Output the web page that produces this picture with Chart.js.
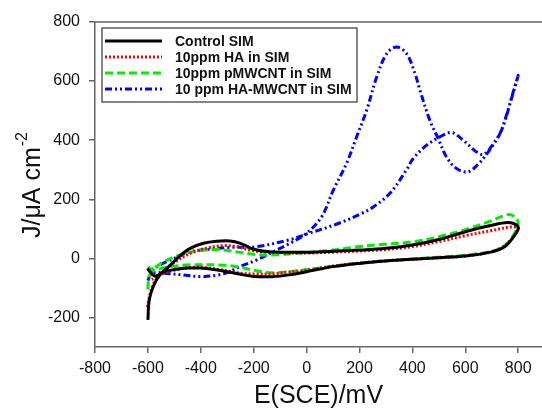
<!DOCTYPE html>
<html>
<head>
<meta charset="utf-8">
<script src="https://cdn.jsdelivr.net/npm/chart.js@4.4.0/dist/chart.umd.min.js"></script>
<style>
  html, body { margin: 0; padding: 0; background: #fff; }
  #wrap { width: 542px; height: 409px; position: relative; }
</style>
</head>
<body>
<div id="wrap"><canvas id="cv"></canvas></div>
<script>
// Cyclic voltammograms (E in mV vs SCE, J in uA/cm2)
const seriesLabels = ['Control SIM', '10ppm HA in SIM', '10ppm pMWCNT in SIM', '10 ppm HA-MWCNT in SIM'];
const xTickValues = [-800, -600, -400, -200, 0, 200, 400, 600, 800];
const yTickValues = [-200, 0, 200, 400, 600, 800];

const controlE = [-600, -595, -580, -555, -515, -480, -440, -390, -340, -290, -250, -200, -140, -60, 0, 100, 200, 300, 400, 500, 600, 700, 760, 790, 800,
  780, 750, 700, 600, 500, 400, 300, 200, 100, 0, -60, -130, -200, -250, -300, -350, -400, -450, -500, -540, -573, -590, -602];
const controlJ = [-208, -141, -96, -56, -23, 8, 34, 51, 58, 59, 51, 31, 22, 21, 21, 24, 28, 34, 45, 64, 90, 112, 121, 115, 100,
  70, 40, 22, 8, 2, -3, -9, -17, -28, -45, -55, -62, -61, -54, -45, -38, -33, -33, -38, -45, -60, -47, -34];

const haE = [-602, -590, -580, -565, -540, -505, -440, -380, -315, -265, -215, -165, -100, 0, 100, 200, 300, 400, 500, 600, 700, 770, 800,
  790, 770, 740, 700, 600, 500, 400, 300, 200, 100, 0, -63, -126, -190, -250, -315, -400, -450, -500, -530, -560, -585];
const haJ = [-165, -115, -88, -68, -45, -17, 17, 34, 43, 40, 28, 22, 19, 18, 21, 25, 30, 40, 57, 77, 94, 106, 103,
  85, 60, 38, 22, 8, 2, -3, -8, -16, -26, -40, -46, -52, -53, -50, -40, -30, -32, -40, -46, -58, -72];

const pmwcntE = [-600, -598, -590, -570, -542, -480, -400, -340, -300, -265, -190, -113, -40, 0, 100, 200, 300, 400, 500, 600, 700, 760, 785, 800,
  790, 770, 740, 700, 600, 500, 400, 300, 200, 100, 0, -63, -126, -190, -252, -315, -440, -530, -580, -602];
const pmwcntJ = [-105, -75, -50, -30, -12, 11, 27, 30, 27, 22, 13, 12, 17, 20, 28, 40, 48, 56, 73, 97, 128, 148, 142, 122,
  92, 62, 38, 24, 11, 4, -2, -8, -16, -27, -38, -45, -49, -42, -30, -23, -22, -30, -40, -27];

const hamwcntE = [-600, -590, -570, -530, -466, -400, -340, -300, -252, -190, -120, -69, 0, 57, 101, 151, 189, 227, 265, 303, 340, 378, 410, 429, 466, 498, 529, 567, 611, 650, 680, 700, 731, 769, 800,
  780, 740, 700, 670, 643, 592, 548, 504, 454, 403, 378, 315, 252, 208, 120, 6, -69, -195, -290, -378, -441, -516, -567, -598];
const hamwcntJ = [-75, -55, -48, -51, -56, -62, -57, -48, -28, -6, 25, 48, 85, 141, 231, 321, 411, 501, 614, 693, 715, 693, 625, 568, 467, 405, 343, 304, 293, 320, 352, 377, 422, 524, 619,
  560, 440, 380, 352, 360, 400, 426, 411, 383, 338, 300, 220, 174, 152, 118, 84, 62, 39, 37, 30, 22, -6, -28, -45];

function toPoints(xs, ys) {
  return xs.map((x, i) => ({ x: x, y: ys[i] }));
}

const FONT = '"Liberation Sans", Arial, sans-serif';

// y axis title with superscript
const yTitlePlugin = {
  id: 'yTitle',
  afterDraw(chart) {
    const ctx = chart.ctx;
    ctx.save();
    ctx.translate(40, 238);
    ctx.rotate(-Math.PI / 2);
    ctx.fillStyle = '#111';
    ctx.textAlign = 'left';
    ctx.textBaseline = 'alphabetic';
    ctx.font = '25px ' + FONT;
    const main = 'J/\u03bcA cm';
    ctx.fillText(main, 0, 0);
    const w = ctx.measureText(main).width;
    ctx.font = '16px ' + FONT;
    ctx.fillText('-2', w + 1, -13);
    ctx.restore();
  }
};

// top frame line
const framePlugin = {
  id: 'frame',
  beforeDatasetsDraw(chart) {
    const a = chart.chartArea;
    const ctx = chart.ctx;
    ctx.save();
    ctx.strokeStyle = '#666';
    ctx.lineWidth = 1.5;
    ctx.beginPath();
    ctx.moveTo(a.left, a.top);
    ctx.lineTo(a.right, a.top);
    ctx.stroke();
    ctx.restore();
  }
};

// boxed legend in the upper left
const legendPlugin = {
  id: 'boxLegend',
  afterDatasetsDraw(chart) {
    const ctx = chart.ctx;
    ctx.save();
    ctx.fillStyle = '#fff';
    ctx.fillRect(102, 28, 255, 74);
    ctx.strokeStyle = '#444';
    ctx.lineWidth = 1.3;
    ctx.strokeRect(102, 28, 255, 74);
    const rows = [41, 57, 73, 89];
    chart.data.datasets.forEach((ds, i) => {
      const y = rows[i];
      ctx.strokeStyle = ds.borderColor;
      ctx.lineWidth = ds.borderWidth;
      ctx.setLineDash(ds.borderDash || []);
      ctx.beginPath();
      ctx.moveTo(105, y);
      ctx.lineTo(162, y);
      ctx.stroke();
      ctx.setLineDash([]);
      ctx.fillStyle = '#111';
      ctx.font = 'bold 14px ' + FONT;
      ctx.textBaseline = 'middle';
      ctx.textAlign = 'left';
      ctx.fillText(ds.label, 175, y + 1);
    });
    ctx.restore();
  }
};

const ctx = document.getElementById('cv').getContext('2d');
new Chart(ctx, {
  type: 'scatter',
  data: {
    datasets: [
      { label: seriesLabels[0], data: toPoints(controlE, controlJ), borderColor: '#000000', borderWidth: 3, borderDash: [] },
      { label: seriesLabels[1], data: toPoints(haE, haJ), borderColor: '#ff0000', borderWidth: 3, borderDash: [2, 2] },
      { label: seriesLabels[2], data: toPoints(pmwcntE, pmwcntJ), borderColor: '#00ee00', borderWidth: 3, borderDash: [8, 4] },
      { label: seriesLabels[3], data: toPoints(hamwcntE, hamwcntJ), borderColor: '#0000ff', borderWidth: 3, borderDash: [7, 3, 2, 3, 2, 3] }
    ].map(d => Object.assign(d, { showLine: true, pointRadius: 0, tension: 0.35, fill: false }))
  },
  options: {
    responsive: true,
    maintainAspectRatio: false,
    animation: false,
    layout: { padding: { top: 22, right: 0, left: 0, bottom: 0 } },
    plugins: {
      legend: { display: false },
      tooltip: { enabled: false }
    },
    scales: {
      x: {
        type: 'linear',
        min: -800,
        max: 890,
        afterBuildTicks(scale) {
          scale.ticks = xTickValues.map(v => ({ value: v }));
        },
        afterFit(scale) { scale.height = 62; },
        ticks: { padding: 6, color: '#111', font: { family: FONT, size: 16 }, maxRotation: 0, autoSkip: false },
        grid: { drawOnChartArea: false, drawTicks: true, tickLength: 6, color: '#666', lineWidth: 1.5 },
        border: { display: true, color: '#666', width: 1.5 },
        title: { display: true, text: 'E(SCE)/mV', color: '#111', font: { family: FONT, size: 25, lineHeight: 1 }, padding: { top: 0, bottom: 0 } }
      },
      y: {
        type: 'linear',
        min: -300,
        max: 800,
        afterBuildTicks(scale) {
          scale.ticks = yTickValues.map(v => ({ value: v }));
        },
        afterFit(scale) { scale.width = 95; },
        ticks: { padding: 9, color: '#111', font: { family: FONT, size: 16 }, autoSkip: false },
        grid: { drawOnChartArea: false, drawTicks: true, tickLength: 6, color: '#666', lineWidth: 1.5 },
        border: { display: true, color: '#666', width: 1.5 },
        title: { display: false }
      }
    }
  },
  plugins: [framePlugin, legendPlugin, yTitlePlugin]
});
</script>
</body>
</html>
